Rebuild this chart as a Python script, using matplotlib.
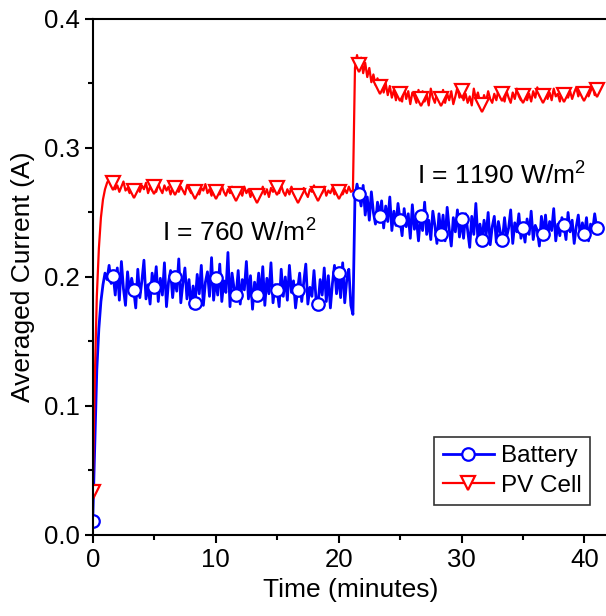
import numpy as np
import matplotlib
matplotlib.use("Agg")
import matplotlib.pyplot as plt

plt.rcParams['font.family'] = ['Liberation Sans', 'DejaVu Sans']
plt.rcParams['mathtext.default'] = 'regular'

# logged every 10 s, time in minutes
dt_min = 1 / 6

battery = [
    0.011, 0.070, 0.128, 0.160, 0.181, 0.194, 0.203, 0.198, 0.209, 0.195,
    0.201, 0.186, 0.207, 0.182, 0.212, 0.191, 0.178, 0.204, 0.188, 0.199,
    0.190, 0.176, 0.206, 0.184, 0.197, 0.213, 0.183, 0.194, 0.179, 0.203,
    0.192, 0.208, 0.181, 0.199, 0.186, 0.211, 0.177, 0.196, 0.205, 0.184,
    0.200, 0.189, 0.214, 0.180, 0.195, 0.207, 0.183, 0.198, 0.176, 0.193,
    0.180, 0.202, 0.187, 0.209, 0.178, 0.196, 0.204, 0.185, 0.215, 0.182,
    0.199, 0.186, 0.210, 0.181, 0.197, 0.188, 0.219, 0.177, 0.203, 0.191,
    0.186, 0.205, 0.179, 0.198, 0.190, 0.212, 0.183, 0.201, 0.175, 0.196,
    0.186, 0.203, 0.184, 0.208, 0.178, 0.199, 0.187, 0.211, 0.180, 0.194,
    0.190, 0.177, 0.206, 0.185, 0.200, 0.182, 0.209, 0.188, 0.197, 0.176,
    0.190, 0.203, 0.181, 0.196, 0.210, 0.179, 0.192, 0.185, 0.205, 0.183,
    0.179, 0.198, 0.186, 0.207, 0.181, 0.201, 0.176, 0.195, 0.209, 0.187,
    0.203, 0.184, 0.211, 0.180, 0.198, 0.206, 0.178, 0.171, 0.262, 0.272,
    0.264, 0.255, 0.271, 0.248, 0.262, 0.244, 0.266, 0.250, 0.241, 0.258,
    0.247, 0.259, 0.238, 0.255, 0.243, 0.262, 0.236, 0.251, 0.240, 0.257,
    0.244, 0.232, 0.253, 0.239, 0.249, 0.230, 0.256, 0.237, 0.245, 0.228,
    0.247, 0.236, 0.258, 0.233, 0.244, 0.229, 0.251, 0.240, 0.226, 0.249,
    0.233, 0.248, 0.228, 0.254, 0.237, 0.224, 0.246, 0.235, 0.252, 0.231,
    0.245, 0.230, 0.249, 0.236, 0.223, 0.247, 0.233, 0.257, 0.229, 0.241,
    0.229, 0.244, 0.232, 0.250, 0.225, 0.239, 0.247, 0.227, 0.243, 0.234,
    0.229, 0.246, 0.231, 0.238, 0.252, 0.226, 0.242, 0.235, 0.249, 0.230,
    0.238, 0.227, 0.245, 0.233, 0.251, 0.229, 0.240, 0.236, 0.224, 0.247,
    0.233, 0.248, 0.230, 0.243, 0.236, 0.253, 0.228, 0.241, 0.232, 0.246,
    0.240, 0.229, 0.250, 0.235, 0.244, 0.226, 0.239, 0.248, 0.231, 0.242,
    0.233, 0.246, 0.228, 0.241, 0.236, 0.249, 0.238,
]

pv_cell = [
    0.033, 0.120, 0.185, 0.222, 0.246, 0.260, 0.268, 0.273, 0.276, 0.271,
    0.273, 0.268, 0.271, 0.266, 0.270, 0.274, 0.267, 0.269, 0.265, 0.271,
    0.267, 0.272, 0.269, 0.266, 0.271, 0.268, 0.273, 0.265, 0.270, 0.267,
    0.270, 0.266, 0.272, 0.268, 0.265, 0.271, 0.267, 0.270, 0.264, 0.269,
    0.269, 0.272, 0.266, 0.270, 0.267, 0.264, 0.271, 0.268, 0.265, 0.270,
    0.266, 0.270, 0.264, 0.269, 0.267, 0.272, 0.265, 0.268, 0.263, 0.270,
    0.266, 0.269, 0.264, 0.271, 0.266, 0.263, 0.268, 0.265, 0.270, 0.264,
    0.264, 0.268, 0.266, 0.263, 0.270, 0.265, 0.268, 0.262, 0.267, 0.265,
    0.263, 0.267, 0.265, 0.270, 0.264, 0.268, 0.262, 0.269, 0.266, 0.271,
    0.269, 0.265, 0.271, 0.266, 0.263, 0.268, 0.264, 0.270, 0.265, 0.262,
    0.263, 0.267, 0.264, 0.269, 0.265, 0.262, 0.268, 0.266, 0.271, 0.264,
    0.264, 0.268, 0.265, 0.270, 0.263, 0.267, 0.265, 0.269, 0.264, 0.268,
    0.266, 0.269, 0.264, 0.268, 0.265, 0.270, 0.266, 0.267, 0.362, 0.372,
    0.364, 0.370, 0.358, 0.366, 0.355, 0.362, 0.351, 0.357, 0.349, 0.354,
    0.347, 0.352, 0.343, 0.350, 0.341, 0.348, 0.339, 0.345, 0.337, 0.346,
    0.342, 0.336, 0.347, 0.338, 0.344, 0.334, 0.343, 0.340, 0.335, 0.345,
    0.338, 0.344, 0.336, 0.341, 0.333, 0.346, 0.339, 0.335, 0.343, 0.337,
    0.338, 0.345, 0.335, 0.342, 0.337, 0.344, 0.334, 0.340, 0.347, 0.339,
    0.344, 0.337, 0.342, 0.335, 0.340, 0.333, 0.346, 0.338, 0.343, 0.336,
    0.333, 0.341, 0.336, 0.344, 0.338, 0.335, 0.342, 0.337, 0.345, 0.339,
    0.342, 0.336, 0.344, 0.339, 0.335, 0.343, 0.338, 0.346, 0.340, 0.337,
    0.340, 0.345, 0.337, 0.342, 0.336, 0.344, 0.339, 0.347, 0.341, 0.338,
    0.340, 0.344, 0.338, 0.343, 0.337, 0.346, 0.340, 0.342, 0.336, 0.345,
    0.341, 0.346, 0.339, 0.344, 0.338, 0.343, 0.347, 0.340, 0.345, 0.339,
    0.342, 0.346, 0.340, 0.344, 0.348, 0.341, 0.345,
]

t = np.arange(len(battery)) * dt_min
marks = list(range(0, len(battery), 10)) + [len(battery) - 1]

fig = plt.figure(figsize=(6.06, 6.16), dpi=100)
ax = fig.add_axes([0.153, 0.1315, 0.852, 0.8377])

ax.plot(t, battery, color='blue', lw=2.0, marker='o', ms=9,
        mfc='white', mec='blue', mew=1.6, markevery=marks, label='Battery')
ax.plot(t, pv_cell, color='red', lw=1.6, marker='v', ms=10,
        mfc='white', mec='red', mew=1.6, markevery=marks, label='PV Cell')

ax.text(5.6, 0.2275, 'I = 760 W/m$^2$', fontsize=19, va='baseline')
ax.text(26.4, 0.2715, 'I = 1190 W/m$^2$', fontsize=19, va='baseline')

ax.set_xlim(0, 42)
ax.set_ylim(0, 0.4)
ax.set_xticks([0, 10, 20, 30, 40])
ax.set_xticks([5, 15, 25, 35], minor=True)
ax.set_yticks([0.0, 0.1, 0.2, 0.3, 0.4])
ax.set_yticks([0.05, 0.15, 0.25, 0.35], minor=True)
ax.yaxis.set_major_formatter(matplotlib.ticker.FormatStrFormatter('%.1f'))
ax.tick_params(which='major', length=6, width=1.5, labelsize=18.5, direction='out')
ax.tick_params(which='minor', length=3.5, width=1.5, direction='out')
for s in ax.spines.values():
    s.set_linewidth(1.5)

ax.set_xlabel('Time (minutes)', fontsize=19, labelpad=4)
ax.set_ylabel('Averaged Current (A)', fontsize=19, labelpad=6)

leg = ax.legend(loc='upper left', bbox_to_anchor=(0.661, 0.19), fontsize=17.5,
                frameon=True, fancybox=False, edgecolor='black',
                handlelength=2.1, handletextpad=0.3, borderpad=0.35,
                labelspacing=0.3, borderaxespad=0)
leg.get_frame().set_linewidth(1.2)

fig.savefig('out.png', dpi=100)
